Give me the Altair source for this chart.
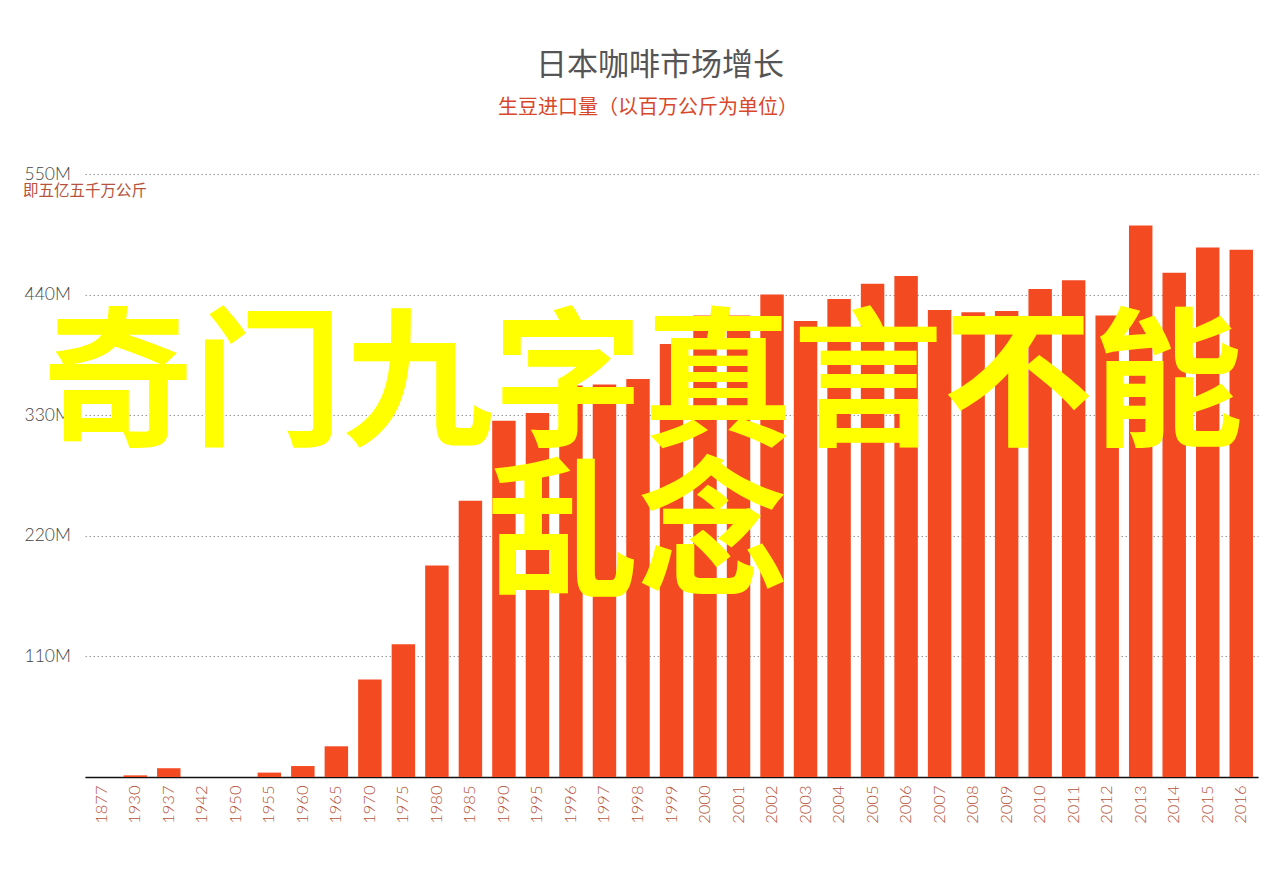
import altair as alt
import pandas as pd

years = ["1877", "1930", "1937", "1942", "1950", "1955", "1960", "1965", "1970", "1975",
         "1980", "1985", "1990", "1995", "1996", "1997", "1998", "1999", "2000", "2001",
         "2002", "2003", "2004", "2005", "2006", "2007", "2008", "2009", "2010", "2011",
         "2012", "2013", "2014", "2015", "2016"]
imports_m = [0, 1.5, 8, 0, 0, 4, 10, 28, 89, 121,
             193, 252, 325, 332, 357, 358, 363, 395, 421, 421,
             440, 416, 436, 450, 457, 426, 424, 425, 445, 453,
             421, 503, 460, 483, 481]
y_ticks = [0, 110, 220, 330, 440, 550]

title_text = "日本咖啡市场增长"
subtitle_text = "生豆进口量（以百万公斤为单位）"
note_text = "即五亿五千万公斤"
overlay_line1 = "奇门九字真言不能"
overlay_line2 = "乱念"

df = pd.DataFrame({"year": years, "value": imports_m})

W, H = 1173, 603

bars = alt.Chart(df).mark_bar(color="#F44A22").encode(
    x=alt.X("year:N", sort=years, title=None,
            scale=alt.Scale(paddingInner=0.3, paddingOuter=0.15),
            axis=alt.Axis(labelAngle=-90, ticks=False, domainColor="#111111",
                          domainWidth=1.5, labelColor="#B5533C", labelFontSize=16.5,
                          labelFont="Lato", labelFontWeight=300, labelPadding=8,
                          grid=False)),
    y=alt.Y("value:Q", title=None,
            scale=alt.Scale(domain=[0, 550], nice=False, zero=True),
            axis=alt.Axis(values=y_ticks,
                          labelExpr="datum.value == 0 ? '' : datum.value + 'M'",
                          labelAlign="left", labelPadding=61, ticks=False, tickSize=0,
                          domain=False, grid=True, gridColor="#999999",
                          gridDash=[1.5, 2.5], gridWidth=1, labelColor="#444444",
                          labelFontSize=17.5, labelFont="Lato", labelFontWeight=300)),
)

def text_layer(txt, x, y, size, color, weight="normal", align="center", font="Noto Sans CJK SC"):
    return alt.Chart(pd.DataFrame({"t": [txt]})).mark_text(
        fontSize=size, color=color, fontWeight=weight, align=align,
        baseline="middle", font=font
    ).encode(x=alt.value(x), y=alt.value(y), text="t:N")

title = text_layer(title_text, 575, -108, 31, "#555555")
subtitle = text_layer(subtitle_text, 563, -66, 20, "#D9472B")
note = text_layer(note_text, -62, 17, 15.5, "#B5533C", align="left")
ov1 = text_layer(overlay_line1, 558, 215, 150, "#FFFF00", weight="bold")
ov2 = text_layer(overlay_line2, 553, 365, 150, "#FFFF00", weight="bold")

chart = alt.layer(bars, title, subtitle, note, ov1, ov2).properties(
    width=W, height=H,
    autosize=alt.AutoSizeParams(type="none"),
    padding={"left": 77, "top": 166, "right": 14, "bottom": 80},
    background="white",
).configure_view(stroke=None)

chart.save("out.html", embed_options={"renderer": "svg", "actions": False})
